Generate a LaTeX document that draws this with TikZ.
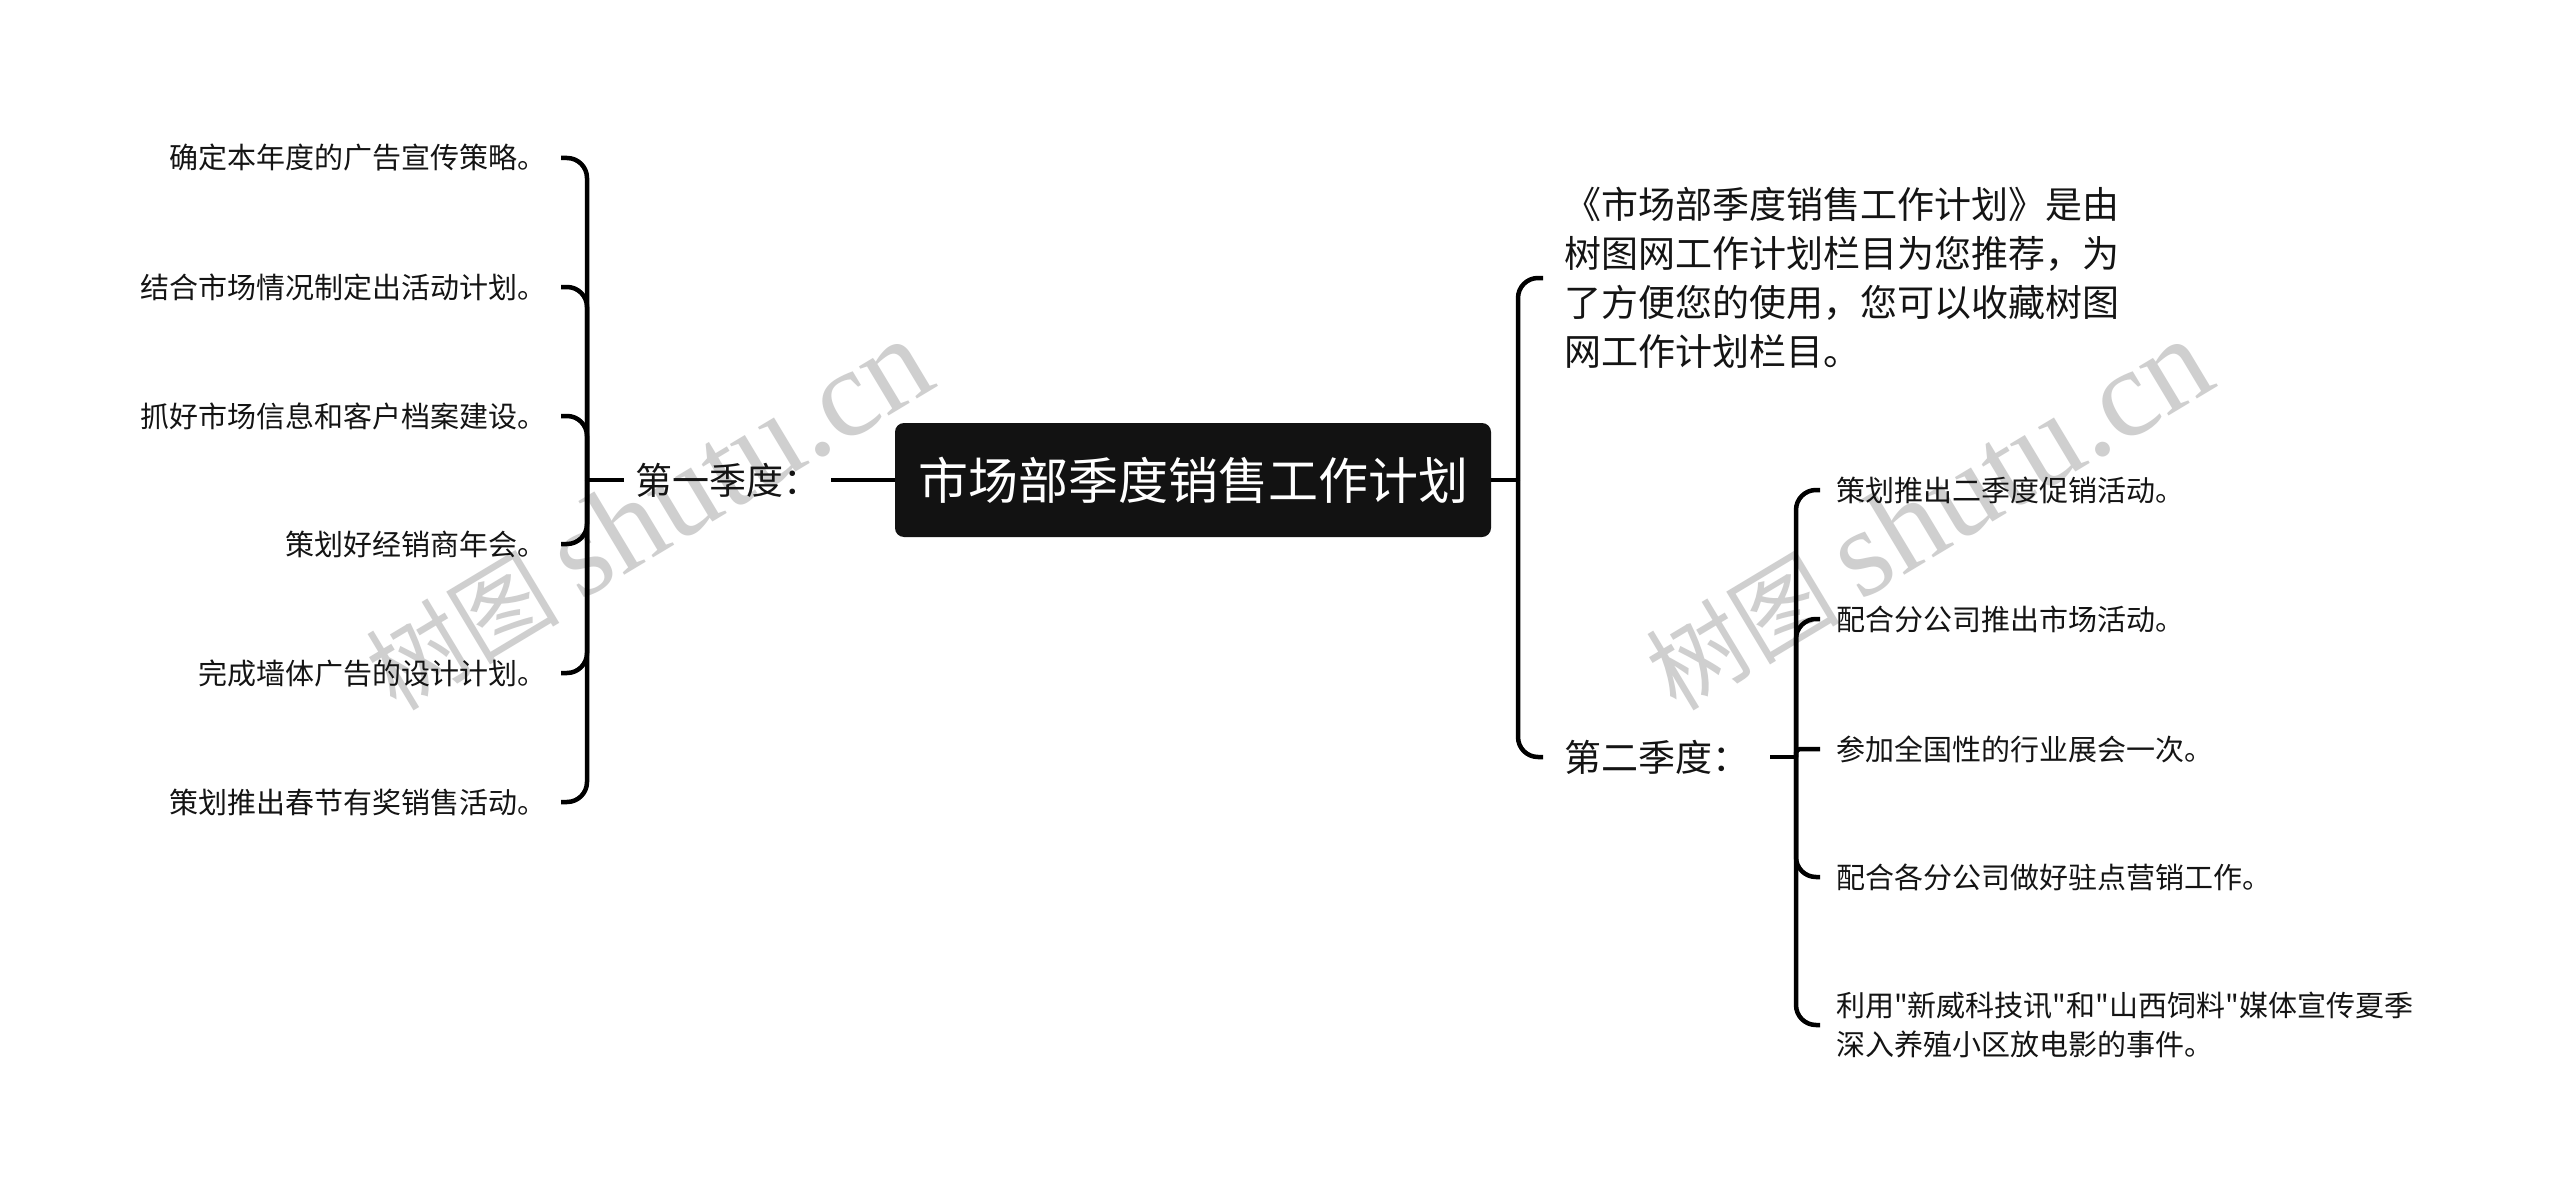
\documentclass[tikz,border=0pt]{standalone}
\usepackage{fontspec}
\setmainfont{Noto Sans CJK SC}[Ligatures=TeXOff]
\newfontfamily\cjkwm{Noto Sans CJK SC}
\newfontfamily\wmlatin{Liberation Serif}
\begin{document}
\begin{tikzpicture}[x=1pt,y=-1pt,
  conn/.style={line width=4.5pt, draw=black, rounded corners=20pt},
  leaf/.style={font=\fontsize{29}{39}\selectfont, inner ysep=0pt, text=black!92, align=left},
  season/.style={font=\fontsize{37}{49}\selectfont, inner ysep=0pt, text=black!92},
  desc/.style={font=\fontsize{37}{49}\selectfont, inner ysep=0pt, text=black!92, align=left},
  rootbox/.style={fill=black!93, rounded corners=9pt, text=white, font=\fontsize{50}{56}\selectfont, minimum width=596pt, minimum height=114pt, inner sep=0pt},
  wm/.style={text=black!19, rotate=31, inner sep=0pt}]
\fill[white] (0,0) rectangle (2560,1201);
\useasboundingbox (0,0) rectangle (2560,1201);

% watermarks
\node[wm] (wm1) at (648,515) {{\cjkwm\fontsize{97}{97}\selectfont 树图}{\wmlatin\fontsize{125}{125}\selectfont\,shutu.cn}};
\node[wm] (wm2) at (1928,515) {{\cjkwm\fontsize{97}{97}\selectfont 树图}{\wmlatin\fontsize{125}{125}\selectfont\,shutu.cn}};

% root
\node[rootbox] (root) at (1193,480) {市场部季度销售工作计划};

% junctions
\coordinate (J1) at (587,480);
\coordinate (J0) at (1518,480);
\coordinate (J2) at (1796,757);

% first quarter
\node[season, anchor=west, inner xsep=11pt] (s1) at (624,480) {第一季度：};
\node[leaf, anchor=east, inner xsep=14pt] (l1) at (561,158) {确定本年度的广告宣传策略。};
\node[leaf, anchor=east, inner xsep=14pt] (l2) at (561,287) {结合市场情况制定出活动计划。};
\node[leaf, anchor=east, inner xsep=14pt] (l3) at (561,416) {抓好市场信息和客户档案建设。};
\node[leaf, anchor=east, inner xsep=14pt] (l4) at (561,544) {策划好经销商年会。};
\node[leaf, anchor=east, inner xsep=14pt] (l5) at (561,673) {完成墙体广告的设计计划。};
\node[leaf, anchor=east, inner xsep=14pt] (l6) at (561,802) {策划推出春节有奖销售活动。};

% right side
\node[desc, anchor=west, inner xsep=21pt] (desc) at (1543,278) {《市场部季度销售工作计划》是由\\树图网工作计划栏目为您推荐，为\\了方便您的使用，您可以收藏树图\\网工作计划栏目。};
\node[season, anchor=west, inner xsep=21pt] (s2) at (1543,757) {第二季度：};
\node[leaf, anchor=west, inner xsep=16pt] (r1) at (1820,490) {策划推出二季度促销活动。};
\node[leaf, anchor=west, inner xsep=16pt] (r2) at (1820,619) {配合分公司推出市场活动。};
\node[leaf, anchor=west, inner xsep=16pt] (r3) at (1820,749) {参加全国性的行业展会一次。};
\node[leaf, anchor=west, inner xsep=16pt] (r4) at (1820,877) {配合各分公司做好驻点营销工作。};
\node[leaf, anchor=west, inner xsep=16pt] (r5) at (1820,1025) {利用"新威科技讯"和"山西饲料"媒体宣传夏季\\深入养殖小区放电影的事件。};

% connectors
\draw[conn] (root.west) -- (s1.east);
\draw[conn] (s1.west) -- (J1);
\foreach \n in {l1,l2,l3,l4,l5,l6} \draw[conn] (\n.east) -| (J1);
\draw[conn] (root.east) -- (J0);
\draw[conn] (J0) |- (desc.west);
\draw[conn] (J0) |- (s2.west);
\draw[conn] (s2.east) -- (J2);
\foreach \n in {r1,r2,r4,r5} \draw[conn] (J2) |- (\n.west);
\draw[conn, rounded corners=4pt] (J2) |- (r3.west);
\end{tikzpicture}
\end{document}
